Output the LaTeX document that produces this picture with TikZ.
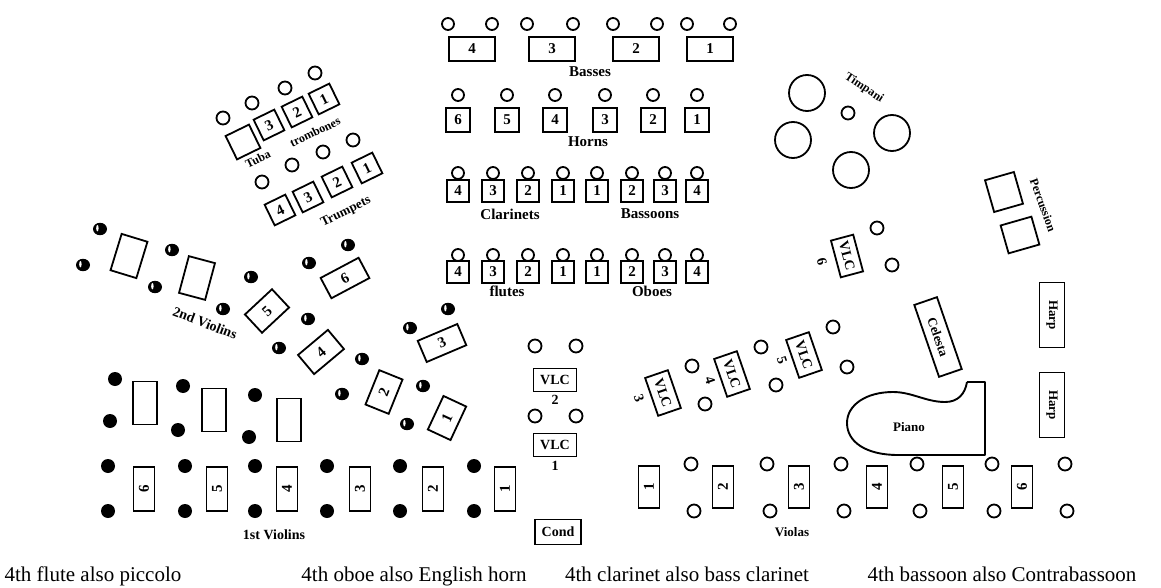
\documentclass[tikz,border=0pt]{standalone}
\usepackage{fontspec}
\setmainfont{Liberation Serif}
\begin{document}
\begin{tikzpicture}[x=1pt,y=-1pt,
  bx/.style={draw, line width=1.8pt, inner sep=0pt, font=\fontsize{15}{15}\selectfont\bfseries},
  vbx/.style={draw, line width=1.8pt, inner sep=0pt, font=\fontsize{14}{14}\selectfont\bfseries},
  oc/.style={draw, line width=1.8pt},
  lab/.style={font=\fontsize{15}{15}\selectfont\bfseries, inner sep=0pt},
  slab/.style={font=\fontsize{12}{12}\selectfont\bfseries, inner sep=0pt},
  foot/.style={font=\fontsize{21}{21}\selectfont, inner sep=0pt, anchor=base},
  hdot/.pic={\fill[black] (0,0) ellipse[x radius=7, y radius=6.2];
             \fill[white] (-2.6,-0.8) ellipse[x radius=1.2, y radius=3.2];}
]
\useasboundingbox (0,0) rectangle (1161,588);

% ---------------- Basses
\foreach \x in {448,492,527,573,613,657,687,730} \draw[oc] (\x,24) circle[radius=6];
\foreach \x/\n in {472/4,552/3,636/2,710/1}
  \node[bx, minimum width=46pt, minimum height=24pt] (bass\n) at (\x,49) {\n};
\node[lab] (basses) at (590,72) {Basses};

% ---------------- Horns
\foreach \x/\n in {458/6,507/5,555/4,605/3,653/2,697/1} {
  \draw[oc] (\x,95) circle[radius=6];
  \node[bx, minimum size=24pt] (horn\n) at (\x,120) {\n};}
\node[lab] (horns) at (588,142) {Horns};

% ---------------- Clarinets / Bassoons
\foreach \x/\n [count=\i] in {458/4,493/3,528/2,563/1,597/1,632/2,665/3,697/4} {
  \draw[oc] (\x,173) circle[radius=6];
  \node[bx, minimum size=22pt] (cb\i) at (\x,191) {\n};}
\node[lab] (clar) at (510,214) {Clarinets};
\node[lab] (bsn) at (650,214) {Bassoons};

% ---------------- Flutes / Oboes
\foreach \x/\n [count=\i] in {458/4,493/3,528/2,563/1,597/1,632/2,665/3,697/4} {
  \draw[oc] (\x,255) circle[radius=6];
  \node[bx, minimum size=22pt] (fo\i) at (\x,272) {\n};}
\node[lab] (flutes) at (507,291) {flutes};
\node[lab] (oboes) at (652,291) {Oboes};

% ---------------- Brass
\foreach \p in {(223,118),(252,103),(285,88),(315,73),(262,182),(292,165),(323,152),(353,140)}
  \draw[oc] \p circle[radius=6.5];
\node[bx, rotate=26, minimum size=26pt] (tuba) at (243,142) {};
\node[bx, rotate=26, minimum size=23pt] (tb3) at (269,125) {3};
\node[bx, rotate=26, minimum size=23pt] (tb2) at (297,112) {2};
\node[bx, rotate=26, minimum size=23pt] (tb1) at (324,99) {1};
\node[slab, rotate=26] (tubal) at (258,159) {Tuba};
\node[slab, rotate=26] (tbl) at (315,132) {trombones};
\node[bx, rotate=26, minimum size=23pt] (tp4) at (280,210) {4};
\node[bx, rotate=26, minimum size=23pt] (tp3) at (308,197) {3};
\node[bx, rotate=26, minimum size=23pt] (tp2) at (337,182) {2};
\node[bx, rotate=26, minimum size=23pt] (tp1) at (367,168) {1};
\node[slab, rotate=26, font=\fontsize{13}{13}\selectfont\bfseries] (tpl) at (346,212) {Trumpets};

% ---------------- 2nd Violins
\foreach \p in {(100,229),(83,265),(172,250),(155,287),(251,277),(223,309),(309,263),(348,245),
                (308,319),(279,348),(410,328),(448,309),(362,359),(342,394),(423,386),(407,424)}
  \pic at \p {hdot};
\node[bx, rotate=-17, minimum width=27pt, minimum height=38pt] (v2a) at (129,256) {};
\node[bx, rotate=-15, minimum width=27pt, minimum height=38pt] (v2b) at (197,278) {};
\node[bx, rotate=43, minimum width=37pt, minimum height=25pt] (v25) at (267,311) {5};
\node[bx, rotate=28, minimum width=43pt, minimum height=23pt] (v26) at (345,278) {6};
\node[bx, rotate=40, minimum width=39pt, minimum height=25pt] (v24) at (321,352) {4};
\node[bx, rotate=23, minimum width=43pt, minimum height=23pt] (v23) at (442,343) {3};
\node[bx, rotate=68, minimum width=37pt, minimum height=25pt] (v22) at (384,392) {2};
\node[bx, rotate=65, minimum width=37pt, minimum height=25pt] (v21) at (447,418) {1};
\node[font=\fontsize{14}{14}\selectfont\bfseries, rotate=-21, inner sep=0pt] (v2l) at (205,323) {2nd Violins};

% ---------------- 1st Violins
\foreach \p in {(115,379),(110,421),(183,386),(178,430),(255,395),(249,437)}
  \fill \p circle[radius=7];
\node[bx, minimum width=24pt, minimum height=43pt] (v1a) at (145,403) {};
\node[bx, minimum width=24pt, minimum height=43pt] (v1b) at (214,410) {};
\node[bx, minimum width=24pt, minimum height=43pt] (v1c) at (289,420) {};
\foreach \x in {108,185,255,327,400,474} {
  \fill (\x,466) circle[radius=7];
  \fill (\x,511) circle[radius=7];}
\foreach \x/\n in {144/6,217/5,287/4,360/3,433/2,505/1}
  \node[bx, minimum width=21pt, minimum height=44pt] (v1\n) at (\x,489) {\rotatebox{90}{\n}};
\node[lab, font=\fontsize{14}{14}\selectfont\bfseries] (v1l) at (274,535) {1st Violins};

% ---------------- Centre cellos and conductor
\foreach \p in {(535,346),(576,346),(535,416),(576,416)} \draw[oc] \p circle[radius=6.5];
\node[vbx, minimum width=43pt, minimum height=23pt] (vlc2) at (555,380) {VLC};
\node[lab, font=\fontsize{14}{14}\selectfont\bfseries] (n2) at (555,400) {2};
\node[vbx, minimum width=43pt, minimum height=23pt] (vlc1) at (555,445) {VLC};
\node[lab, font=\fontsize{14}{14}\selectfont\bfseries] (n1) at (555,466) {1};
\node[vbx, minimum width=46pt, minimum height=25pt] (cond) at (558,532) {Cond};

% ---------------- Cellos 3-6
\foreach \p in {(692,366),(705,404),(761,347),(776,385),(833,327),(847,367),(877,228),(892,265)}
  \draw[oc] \p circle[radius=6.5];
\node[vbx, rotate=-71, minimum width=40pt, minimum height=24pt] (vlc3) at (663,393) {VLC};
\node[vbx, rotate=-71, minimum width=40pt, minimum height=24pt] (vlc4) at (732,374) {VLC};
\node[vbx, rotate=-71, minimum width=40pt, minimum height=24pt] (vlc5) at (804,355) {VLC};
\node[vbx, rotate=-75, minimum width=38pt, minimum height=23pt] (vlc6) at (847,256) {VLC};
\node[slab, rotate=-71, font=\fontsize{14}{14}\selectfont\bfseries] (n3) at (639,398) {3};
\node[slab, rotate=-71, font=\fontsize{14}{14}\selectfont\bfseries] (n4) at (710,380) {4};
\node[slab, rotate=-71, font=\fontsize{14}{14}\selectfont\bfseries] (n5) at (782,360) {5};
\node[slab, rotate=-75, font=\fontsize{14}{14}\selectfont\bfseries] (n6) at (822,262) {6};

% ---------------- Timpani
\foreach \p in {(807,93),(793,140),(892,133),(851,170)} \draw[oc] \p circle[radius=18];
\draw[oc] (848,113) circle[radius=6.5];
\node[slab, rotate=-34] (timp) at (864,88) {Timpani};

% ---------------- Percussion
\node[bx, rotate=16, minimum width=30pt, minimum height=33pt] (perc1) at (1004,192) {};
\node[bx, rotate=16, minimum width=32pt, minimum height=29pt] (perc2) at (1020,235) {};
\node[slab, rotate=-70] (percl) at (1043,205) {Percussion};

% ---------------- Harps, Celesta, Piano
\node[vbx, rotate=-90, minimum width=65pt, minimum height=25pt, font=\fontsize{13}{13}\selectfont\bfseries] (harp1) at (1052,315) {Harp};
\node[vbx, rotate=-90, minimum width=65pt, minimum height=25pt, font=\fontsize{13}{13}\selectfont\bfseries] (harp2) at (1052,405) {Harp};
\node[vbx, rotate=-71, minimum width=76pt, minimum height=24pt, font=\fontsize{13}{13}\selectfont\bfseries] (cel) at (938,337) {Celesta};
\draw[line width=1.9pt, line join=round]
  (967,382) -- (985,382) -- (985,455) -- (898,455)
  .. controls (866,455) and (847,442) .. (847,423)
  .. controls (847,405) and (866,392) .. (893,392)
  .. controls (912,392) and (926,402) .. (945,402)
  .. controls (958,402) and (965,394) .. (967,382);
\node[lab, font=\fontsize{13}{13}\selectfont\bfseries] (piano) at (909,427) {Piano};

% ---------------- Violas
\foreach \x in {691,767,841,917,992,1065} \draw[oc] (\x,464) circle[radius=6.5];
\foreach \x in {694,770,844,920,994,1067} \draw[oc] (\x,511) circle[radius=6.5];
\foreach \x/\n in {649/1,723/2,799/3,877/4,953/5,1022/6}
  \node[bx, minimum width=21pt, minimum height=42pt] (va\n) at (\x,487) {\rotatebox{90}{\n}};
\node[lab, font=\fontsize{13}{13}\selectfont\bfseries] (val) at (792,532) {Violas};

% ---------------- Footnotes
\node[foot] (f1) at (93,581) {4th flute also piccolo};
\node[foot] (f2) at (414,581) {4th oboe also English horn};
\node[foot] (f3) at (687,581) {4th clarinet also bass clarinet};
\node[foot] (f4) at (1002,581) {4th bassoon also Contrabassoon};
\end{tikzpicture}
\end{document}
